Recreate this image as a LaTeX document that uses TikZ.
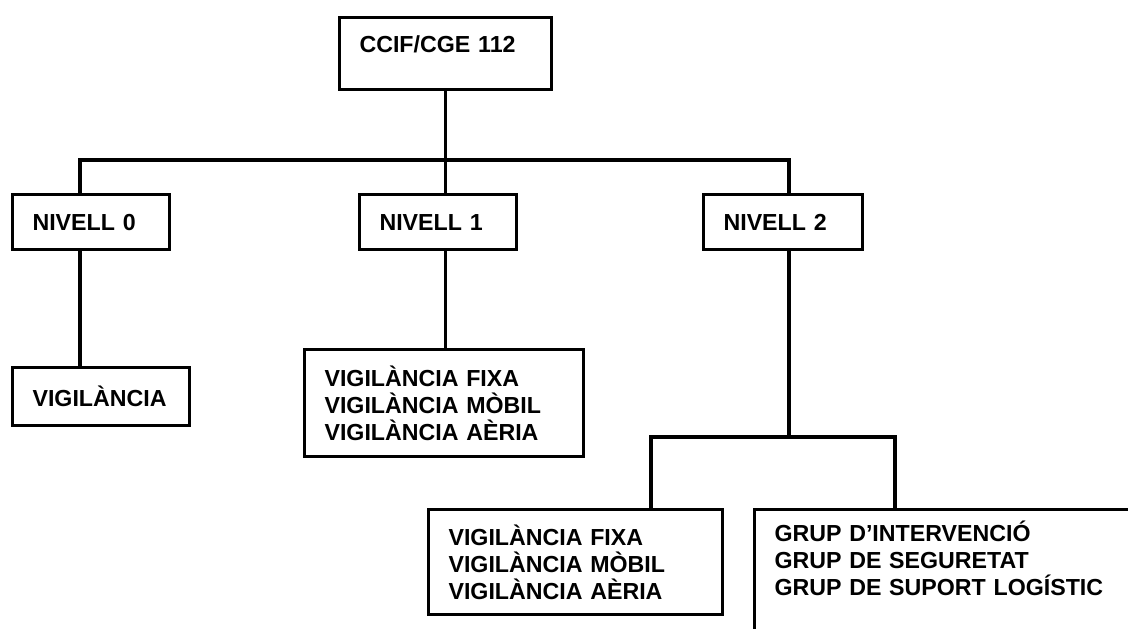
\documentclass[tikz,border=0pt]{standalone}
\usepackage{fontspec}
\setmainfont{Liberation Sans}

\begin{document}
\begin{tikzpicture}[
        box/.style={rectangle, draw, line width=2.2pt, anchor=north west, inner xsep=0.5cm, align=left, font=\fontsize{16.5}{19.2}\selectfont\bfseries},
        link/.style={line width=2.2pt}
      ]

      \useasboundingbox (0,0) rectangle (28.2,15.7);
      \clip (0,0) rectangle (28.2,15.7);

      \node[box, text width=4.3cm, inner ysep=0pt, text height=25pt, text depth=26pt] (ccif) at (8.45,15.3) {CCIF/CGE 112};

      \node[box, text width=2.925cm, minimum height=1.375cm] (niv0) at (0.275,10.875) {NIVELL 0};
      \node[box, text width=2.925cm, minimum height=1.375cm] (niv1) at (8.95,10.875) {NIVELL 1};
      \node[box, text width=2.975cm, minimum height=1.375cm] (niv2) at (17.55,10.875) {NIVELL 2};

      \node[box, text width=3.425cm, minimum height=1.45cm] (vig0) at (0.275,6.55) {VIGILÀNCIA};
      \node[box, text width=5.975cm, minimum height=2.675cm] (vig1) at (7.575,7.0) {
        VIGILÀNCIA FIXA\\
        VIGILÀNCIA MÒBIL\\
        VIGILÀNCIA AÈRIA
      };

      \node[box, text width=6.35cm, minimum height=2.625cm] (vig2) at (10.675,3.0) {
        VIGILÀNCIA FIXA\\
        VIGILÀNCIA MÒBIL\\
        VIGILÀNCIA AÈRIA
      };
      \node[box, text width=11cm, inner ysep=0pt, text height=22.4pt, text depth=120pt] (grup) at (18.825,3.0) {
        GRUP D'INTERVENCIÓ\\
        GRUP DE SEGURETAT\\
        GRUP DE SUPORT LOGÍSTIC
      };

      \coordinate (busL) at (2.0,11.7);
      \coordinate (busR) at (19.725,11.7);
      \coordinate (forkL) at (16.275,4.775);
      \coordinate (forkR) at (22.375,4.775);

      \draw[link] (ccif.south) -- (ccif.south |- busL);
      \draw[link] (niv0.north -| busL) -- (busL) -- (busR) -- (niv2.north -| busR);
      \draw[link] (ccif.south |- busL) -- (niv1.north -| ccif.south);

      \draw[link] (niv0.south -| busL) -- (vig0.north -| busL);
      \draw[link] (niv1.south -| ccif.south) -- (vig1.north -| ccif.south);
      \draw[link] (niv2.south -| busR) -- (busR |- forkL);
      \draw[link] (vig2.north -| forkL) -- (forkL) -- (forkR) -- (grup.north -| forkR);

    \end{tikzpicture}
\end{document}
